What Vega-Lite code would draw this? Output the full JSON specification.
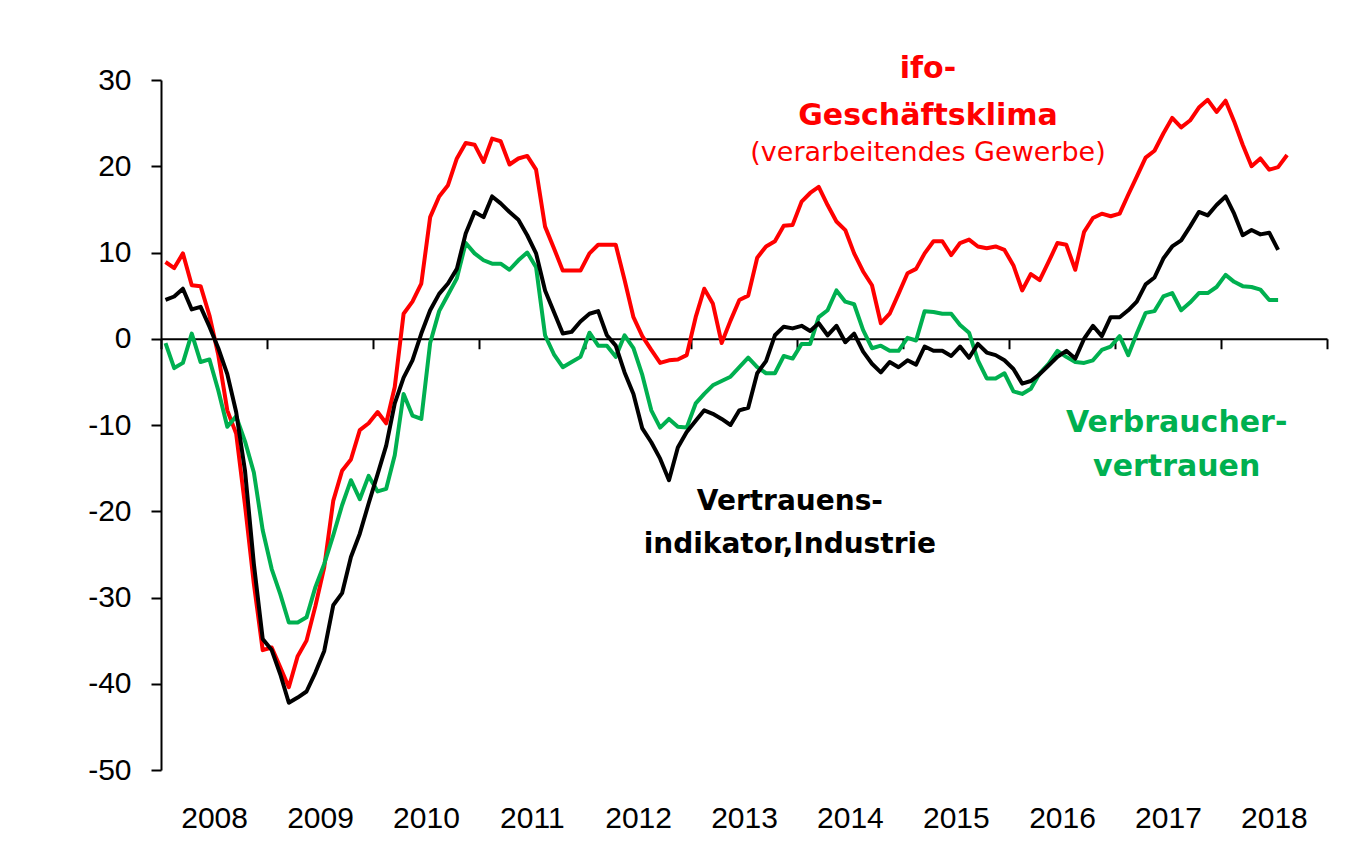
{
  "$schema": "https://vega.github.io/schema/vega-lite/v6.json",
  "autosize": "none",
  "width": 1166,
  "height": 690,
  "padding": {"left": 161, "top": 80, "right": 36, "bottom": 90},
  "background": "white",
  "config": {
    "view": {"stroke": null},
    "axisY": {"grid": false, "domainColor": "black", "domainWidth": 2, "tickColor": "black", "tickWidth": 2, "tickSize": 10, "labelFont": "Liberation Sans", "labelFontSize": 30, "labelColor": "black", "labelPadding": 20, "title": null}
  },
  "datasets": {
    "ifo": [
      {"date":"2008-01","value":8.9},{"date":"2008-02","value":8.2},{"date":"2008-03","value":9.9},{"date":"2008-04","value":6.2},{"date":"2008-05","value":6.1},{"date":"2008-06","value":2.7},{"date":"2008-07","value":-1.9},{"date":"2008-08","value":-8.3},{"date":"2008-09","value":-11.0},{"date":"2008-10","value":-19.3},{"date":"2008-11","value":-28.4},{"date":"2008-12","value":-36.1},
      {"date":"2009-01","value":-35.8},{"date":"2009-02","value":-38.1},{"date":"2009-03","value":-40.4},{"date":"2009-04","value":-36.8},{"date":"2009-05","value":-35.0},{"date":"2009-06","value":-31.0},{"date":"2009-07","value":-26.5},{"date":"2009-08","value":-18.8},{"date":"2009-09","value":-15.3},{"date":"2009-10","value":-14.0},{"date":"2009-11","value":-10.6},{"date":"2009-12","value":-9.8},
      {"date":"2010-01","value":-8.5},{"date":"2010-02","value":-9.8},{"date":"2010-03","value":-5.6},{"date":"2010-04","value":2.9},{"date":"2010-05","value":4.3},{"date":"2010-06","value":6.4},{"date":"2010-07","value":14.1},{"date":"2010-08","value":16.5},{"date":"2010-09","value":17.8},{"date":"2010-10","value":20.9},{"date":"2010-11","value":22.7},{"date":"2010-12","value":22.5},
      {"date":"2011-01","value":20.5},{"date":"2011-02","value":23.2},{"date":"2011-03","value":22.9},{"date":"2011-04","value":20.2},{"date":"2011-05","value":20.9},{"date":"2011-06","value":21.2},{"date":"2011-07","value":19.6},{"date":"2011-08","value":13.0},{"date":"2011-09","value":10.5},{"date":"2011-10","value":7.9},{"date":"2011-11","value":7.9},{"date":"2011-12","value":7.9},
      {"date":"2012-01","value":9.9},{"date":"2012-02","value":10.9},{"date":"2012-03","value":10.9},{"date":"2012-04","value":10.9},{"date":"2012-05","value":6.8},{"date":"2012-06","value":2.5},{"date":"2012-07","value":0.3},{"date":"2012-08","value":-1.3},{"date":"2012-09","value":-2.8},{"date":"2012-10","value":-2.5},{"date":"2012-11","value":-2.4},{"date":"2012-12","value":-1.9},
      {"date":"2013-01","value":2.5},{"date":"2013-02","value":5.8},{"date":"2013-03","value":4.1},{"date":"2013-04","value":-0.5},{"date":"2013-05","value":2.1},{"date":"2013-06","value":4.5},{"date":"2013-07","value":5.0},{"date":"2013-08","value":9.4},{"date":"2013-09","value":10.7},{"date":"2013-10","value":11.3},{"date":"2013-11","value":13.1},{"date":"2013-12","value":13.2},
      {"date":"2014-01","value":15.9},{"date":"2014-02","value":16.9},{"date":"2014-03","value":17.6},{"date":"2014-04","value":15.5},{"date":"2014-05","value":13.6},{"date":"2014-06","value":12.6},{"date":"2014-07","value":9.9},{"date":"2014-08","value":7.8},{"date":"2014-09","value":6.2},{"date":"2014-10","value":1.8},{"date":"2014-11","value":2.9},{"date":"2014-12","value":5.2},
      {"date":"2015-01","value":7.6},{"date":"2015-02","value":8.1},{"date":"2015-03","value":9.9},{"date":"2015-04","value":11.3},{"date":"2015-05","value":11.3},{"date":"2015-06","value":9.7},{"date":"2015-07","value":11.1},{"date":"2015-08","value":11.5},{"date":"2015-09","value":10.7},{"date":"2015-10","value":10.5},{"date":"2015-11","value":10.7},{"date":"2015-12","value":10.3},
      {"date":"2016-01","value":8.5},{"date":"2016-02","value":5.6},{"date":"2016-03","value":7.5},{"date":"2016-04","value":6.8},{"date":"2016-05","value":8.9},{"date":"2016-06","value":11.1},{"date":"2016-07","value":10.9},{"date":"2016-08","value":8.0},{"date":"2016-09","value":12.4},{"date":"2016-10","value":14.0},{"date":"2016-11","value":14.5},{"date":"2016-12","value":14.2},
      {"date":"2017-01","value":14.5},{"date":"2017-02","value":16.7},{"date":"2017-03","value":18.8},{"date":"2017-04","value":21.0},{"date":"2017-05","value":21.8},{"date":"2017-06","value":23.8},{"date":"2017-07","value":25.6},{"date":"2017-08","value":24.5},{"date":"2017-09","value":25.3},{"date":"2017-10","value":26.8},{"date":"2017-11","value":27.7},{"date":"2017-12","value":26.3},
      {"date":"2018-01","value":27.6},{"date":"2018-02","value":25.2},{"date":"2018-03","value":22.5},{"date":"2018-04","value":20.0},{"date":"2018-05","value":20.9},{"date":"2018-06","value":19.6},{"date":"2018-07","value":19.9},{"date":"2018-08","value":21.3}
    ],
    "industrie": [
      {"date":"2008-01","value":4.5},{"date":"2008-02","value":4.9},{"date":"2008-03","value":5.8},{"date":"2008-04","value":3.4},{"date":"2008-05","value":3.7},{"date":"2008-06","value":1.4},{"date":"2008-07","value":-1.1},{"date":"2008-08","value":-4.1},{"date":"2008-09","value":-8.5},{"date":"2008-10","value":-15.3},{"date":"2008-11","value":-26.1},{"date":"2008-12","value":-34.8},
      {"date":"2009-01","value":-36.1},{"date":"2009-02","value":-38.9},{"date":"2009-03","value":-42.2},{"date":"2009-04","value":-41.6},{"date":"2009-05","value":-40.9},{"date":"2009-06","value":-38.7},{"date":"2009-07","value":-36.2},{"date":"2009-08","value":-30.9},{"date":"2009-09","value":-29.5},{"date":"2009-10","value":-25.3},{"date":"2009-11","value":-22.6},{"date":"2009-12","value":-19.1},
      {"date":"2010-01","value":-15.7},{"date":"2010-02","value":-12.4},{"date":"2010-03","value":-7.5},{"date":"2010-04","value":-4.5},{"date":"2010-05","value":-2.5},{"date":"2010-06","value":0.6},{"date":"2010-07","value":3.3},{"date":"2010-08","value":5.2},{"date":"2010-09","value":6.4},{"date":"2010-10","value":8.1},{"date":"2010-11","value":12.2},{"date":"2010-12","value":14.7},
      {"date":"2011-01","value":14.1},{"date":"2011-02","value":16.5},{"date":"2011-03","value":15.7},{"date":"2011-04","value":14.7},{"date":"2011-05","value":13.8},{"date":"2011-06","value":12.0},{"date":"2011-07","value":9.9},{"date":"2011-08","value":5.6},{"date":"2011-09","value":3.1},{"date":"2011-10","value":0.6},{"date":"2011-11","value":0.8},{"date":"2011-12","value":2.0},
      {"date":"2012-01","value":2.9},{"date":"2012-02","value":3.2},{"date":"2012-03","value":0.4},{"date":"2012-04","value":-0.8},{"date":"2012-05","value":-3.9},{"date":"2012-06","value":-6.4},{"date":"2012-07","value":-10.4},{"date":"2012-08","value":-12.0},{"date":"2012-09","value":-13.9},{"date":"2012-10","value":-16.4},{"date":"2012-11","value":-12.6},{"date":"2012-12","value":-10.8},
      {"date":"2013-01","value":-9.5},{"date":"2013-02","value":-8.3},{"date":"2013-03","value":-8.7},{"date":"2013-04","value":-9.3},{"date":"2013-05","value":-10.0},{"date":"2013-06","value":-8.3},{"date":"2013-07","value":-8.0},{"date":"2013-08","value":-4.0},{"date":"2013-09","value":-2.6},{"date":"2013-10","value":0.4},{"date":"2013-11","value":1.4},{"date":"2013-12","value":1.2},
      {"date":"2014-01","value":1.5},{"date":"2014-02","value":0.9},{"date":"2014-03","value":1.8},{"date":"2014-04","value":0.4},{"date":"2014-05","value":1.5},{"date":"2014-06","value":-0.4},{"date":"2014-07","value":0.6},{"date":"2014-08","value":-1.5},{"date":"2014-09","value":-2.9},{"date":"2014-10","value":-3.9},{"date":"2014-11","value":-2.7},{"date":"2014-12","value":-3.3},
      {"date":"2015-01","value":-2.5},{"date":"2015-02","value":-3.0},{"date":"2015-03","value":-0.9},{"date":"2015-04","value":-1.4},{"date":"2015-05","value":-1.4},{"date":"2015-06","value":-2.0},{"date":"2015-07","value":-0.9},{"date":"2015-08","value":-2.2},{"date":"2015-09","value":-0.6},{"date":"2015-10","value":-1.6},{"date":"2015-11","value":-1.9},{"date":"2015-12","value":-2.5},
      {"date":"2016-01","value":-3.5},{"date":"2016-02","value":-5.2},{"date":"2016-03","value":-4.9},{"date":"2016-04","value":-4.1},{"date":"2016-05","value":-3.1},{"date":"2016-06","value":-2.1},{"date":"2016-07","value":-1.4},{"date":"2016-08","value":-2.3},{"date":"2016-09","value":0.0},{"date":"2016-10","value":1.5},{"date":"2016-11","value":0.3},{"date":"2016-12","value":2.5},
      {"date":"2017-01","value":2.5},{"date":"2017-02","value":3.3},{"date":"2017-03","value":4.3},{"date":"2017-04","value":6.3},{"date":"2017-05","value":7.1},{"date":"2017-06","value":9.3},{"date":"2017-07","value":10.7},{"date":"2017-08","value":11.4},{"date":"2017-09","value":13.0},{"date":"2017-10","value":14.7},{"date":"2017-11","value":14.3},{"date":"2017-12","value":15.5},
      {"date":"2018-01","value":16.5},{"date":"2018-02","value":14.5},{"date":"2018-03","value":12.0},{"date":"2018-04","value":12.6},{"date":"2018-05","value":12.1},{"date":"2018-06","value":12.3},{"date":"2018-07","value":10.3}
    ],
    "verbraucher": [
      {"date":"2008-01","value":-0.5},{"date":"2008-02","value":-3.4},{"date":"2008-03","value":-2.8},{"date":"2008-04","value":0.6},{"date":"2008-05","value":-2.7},{"date":"2008-06","value":-2.4},{"date":"2008-07","value":-6.0},{"date":"2008-08","value":-10.2},{"date":"2008-09","value":-9.0},{"date":"2008-10","value":-11.9},{"date":"2008-11","value":-15.5},{"date":"2008-12","value":-22.2},
      {"date":"2009-01","value":-26.7},{"date":"2009-02","value":-29.6},{"date":"2009-03","value":-32.9},{"date":"2009-04","value":-32.9},{"date":"2009-05","value":-32.3},{"date":"2009-06","value":-28.8},{"date":"2009-07","value":-26.1},{"date":"2009-08","value":-22.8},{"date":"2009-09","value":-19.3},{"date":"2009-10","value":-16.4},{"date":"2009-11","value":-18.6},{"date":"2009-12","value":-15.9},
      {"date":"2010-01","value":-17.7},{"date":"2010-02","value":-17.4},{"date":"2010-03","value":-13.5},{"date":"2010-04","value":-6.4},{"date":"2010-05","value":-8.9},{"date":"2010-06","value":-9.3},{"date":"2010-07","value":-0.5},{"date":"2010-08","value":3.2},{"date":"2010-09","value":5.1},{"date":"2010-10","value":7.0},{"date":"2010-11","value":11.1},{"date":"2010-12","value":9.9},
      {"date":"2011-01","value":9.1},{"date":"2011-02","value":8.7},{"date":"2011-03","value":8.7},{"date":"2011-04","value":8.0},{"date":"2011-05","value":9.1},{"date":"2011-06","value":10.0},{"date":"2011-07","value":8.3},{"date":"2011-08","value":0.4},{"date":"2011-09","value":-1.8},{"date":"2011-10","value":-3.3},{"date":"2011-11","value":-2.7},{"date":"2011-12","value":-2.1},
      {"date":"2012-01","value":0.7},{"date":"2012-02","value":-0.8},{"date":"2012-03","value":-0.8},{"date":"2012-04","value":-2.1},{"date":"2012-05","value":0.4},{"date":"2012-06","value":-1.1},{"date":"2012-07","value":-4.2},{"date":"2012-08","value":-8.3},{"date":"2012-09","value":-10.3},{"date":"2012-10","value":-9.3},{"date":"2012-11","value":-10.2},{"date":"2012-12","value":-10.3},
      {"date":"2013-01","value":-7.5},{"date":"2013-02","value":-6.4},{"date":"2013-03","value":-5.4},{"date":"2013-04","value":-4.9},{"date":"2013-05","value":-4.4},{"date":"2013-06","value":-3.3},{"date":"2013-07","value":-2.2},{"date":"2013-08","value":-3.3},{"date":"2013-09","value":-4.0},{"date":"2013-10","value":-4.0},{"date":"2013-11","value":-2.0},{"date":"2013-12","value":-2.3},
      {"date":"2014-01","value":-0.6},{"date":"2014-02","value":-0.6},{"date":"2014-03","value":2.5},{"date":"2014-04","value":3.3},{"date":"2014-05","value":5.6},{"date":"2014-06","value":4.3},{"date":"2014-07","value":4.0},{"date":"2014-08","value":1.0},{"date":"2014-09","value":-1.1},{"date":"2014-10","value":-0.8},{"date":"2014-11","value":-1.4},{"date":"2014-12","value":-1.4},
      {"date":"2015-01","value":0.1},{"date":"2015-02","value":-0.2},{"date":"2015-03","value":3.2},{"date":"2015-04","value":3.1},{"date":"2015-05","value":2.9},{"date":"2015-06","value":2.9},{"date":"2015-07","value":1.6},{"date":"2015-08","value":0.7},{"date":"2015-09","value":-2.5},{"date":"2015-10","value":-4.6},{"date":"2015-11","value":-4.6},{"date":"2015-12","value":-4.0},
      {"date":"2016-01","value":-6.1},{"date":"2016-02","value":-6.4},{"date":"2016-03","value":-5.8},{"date":"2016-04","value":-4.0},{"date":"2016-05","value":-2.9},{"date":"2016-06","value":-1.4},{"date":"2016-07","value":-2.1},{"date":"2016-08","value":-2.7},{"date":"2016-09","value":-2.8},{"date":"2016-10","value":-2.5},{"date":"2016-11","value":-1.3},{"date":"2016-12","value":-0.9},
      {"date":"2017-01","value":0.3},{"date":"2017-02","value":-1.9},{"date":"2017-03","value":0.6},{"date":"2017-04","value":3.0},{"date":"2017-05","value":3.2},{"date":"2017-06","value":4.9},{"date":"2017-07","value":5.3},{"date":"2017-08","value":3.3},{"date":"2017-09","value":4.2},{"date":"2017-10","value":5.3},{"date":"2017-11","value":5.3},{"date":"2017-12","value":6.0},
      {"date":"2018-01","value":7.4},{"date":"2018-02","value":6.6},{"date":"2018-03","value":6.1},{"date":"2018-04","value":6.0},{"date":"2018-05","value":5.7},{"date":"2018-06","value":4.5},{"date":"2018-07","value":4.5}
    ]
  },
  "resolve": {"axis": {"x": "independent"}},
  "layer": [
    {
      "data": {"name": "ifo"},
      "mark": {"type": "line", "color": "#FF0000", "strokeWidth": 4, "strokeJoin": "round"},
      "encoding": {
        "x": {"field": "date", "type": "temporal", "timeUnit": "utcyearmonth", "bandPosition": 0.5,
              "scale": {"domain": [{"year": 2008, "month": 1, "date": 1, "utc": true}, {"year": 2019, "month": 1, "date": 1, "utc": true}]},
              "axis": {"orient": "bottom", "offset": -431.25, "labels": false, "title": null, "grid": false, "domain": true, "domainColor": "black", "domainWidth": 2, "ticks": true, "tickColor": "black", "tickWidth": 2, "tickSize": 10,
                       "values": [{"year": 2008, "month": 1, "date": 1, "utc": true}, {"year": 2009, "month": 1, "date": 1, "utc": true}, {"year": 2010, "month": 1, "date": 1, "utc": true}, {"year": 2011, "month": 1, "date": 1, "utc": true}, {"year": 2012, "month": 1, "date": 1, "utc": true}, {"year": 2013, "month": 1, "date": 1, "utc": true}, {"year": 2014, "month": 1, "date": 1, "utc": true}, {"year": 2015, "month": 1, "date": 1, "utc": true}, {"year": 2016, "month": 1, "date": 1, "utc": true}, {"year": 2017, "month": 1, "date": 1, "utc": true}, {"year": 2018, "month": 1, "date": 1, "utc": true}, {"year": 2019, "month": 1, "date": 1, "utc": true}]}},
        "y": {"field": "value", "type": "quantitative", "scale": {"domain": [-50, 30], "nice": false, "zero": false},
              "axis": {"values": [-50, -40, -30, -20, -10, 0, 10, 20, 30], "labelExpr": "replace(datum.label, '\u2212', '-')"}}
      }
    },
    {
      "data": {"name": "verbraucher"},
      "mark": {"type": "line", "color": "#00B050", "strokeWidth": 4, "strokeJoin": "round"},
      "encoding": {
        "x": {"field": "date", "type": "temporal", "timeUnit": "utcyearmonth", "bandPosition": 0.5, "axis": null},
        "y": {"field": "value", "type": "quantitative"}
      }
    },
    {
      "data": {"name": "industrie"},
      "mark": {"type": "line", "color": "#000000", "strokeWidth": 4, "strokeJoin": "round"},
      "encoding": {
        "x": {"field": "date", "type": "temporal", "timeUnit": "utcyearmonth", "bandPosition": 0.5, "axis": null},
        "y": {"field": "value", "type": "quantitative"}
      }
    },
    {
      "data": {"values": [{}]},
      "mark": {"type": "text", "text": ["ifo-", "Geschäftsklima"], "color": "#FF0000", "font": "DejaVu Sans", "fontWeight": "bold", "fontSize": 30, "lineHeight": 47, "align": "center", "baseline": "alphabetic"},
      "encoding": {
        "x": {"datum": {"year": 2015, "month": 3, "date": 28, "utc": true}, "type": "temporal",
              "axis": {"orient": "bottom", "title": null, "grid": false, "domain": false, "ticks": false, "tickSize": 0, "labelPadding": 33, "labelFont": "Liberation Sans", "labelFontSize": 30, "labelColor": "black", "format": "%Y", "labelAlign": "center",
                       "values": [{"year": 2008, "month": 7, "date": 2, "utc": true}, {"year": 2009, "month": 7, "date": 2, "utc": true}, {"year": 2010, "month": 7, "date": 2, "utc": true}, {"year": 2011, "month": 7, "date": 2, "utc": true}, {"year": 2012, "month": 7, "date": 2, "utc": true}, {"year": 2013, "month": 7, "date": 2, "utc": true}, {"year": 2014, "month": 7, "date": 2, "utc": true}, {"year": 2015, "month": 7, "date": 2, "utc": true}, {"year": 2016, "month": 7, "date": 2, "utc": true}, {"year": 2017, "month": 7, "date": 2, "utc": true}, {"year": 2018, "month": 7, "date": 2, "utc": true}]}},
        "y": {"datum": 30.26}
      }
    },
    {
      "data": {"values": [{}]},
      "mark": {"type": "text", "text": "(verarbeitendes Gewerbe)", "color": "#FF0000", "font": "DejaVu Sans", "fontSize": 27, "align": "center", "baseline": "alphabetic"},
      "encoding": {
        "x": {"datum": {"year": 2015, "month": 3, "date": 28, "utc": true}, "type": "temporal", "axis": null},
        "y": {"datum": 20.6}
      }
    },
    {
      "data": {"values": [{}]},
      "mark": {"type": "text", "text": ["Vertrauens-", "indikator,Industrie"], "color": "#000000", "font": "DejaVu Sans", "fontWeight": "bold", "fontSize": 28, "lineHeight": 43, "align": "center", "baseline": "alphabetic"},
      "encoding": {
        "x": {"datum": {"year": 2013, "month": 12, "date": 7, "utc": true}, "type": "temporal", "axis": null},
        "y": {"datum": -19.9}
      }
    },
    {
      "data": {"values": [{}]},
      "mark": {"type": "text", "text": ["Verbraucher-", "vertrauen"], "color": "#00B050", "font": "DejaVu Sans", "fontWeight": "bold", "fontSize": 30, "lineHeight": 44, "align": "center", "baseline": "alphabetic"},
      "encoding": {
        "x": {"datum": {"year": 2017, "month": 8, "date": 1, "utc": true}, "type": "temporal", "axis": null},
        "y": {"datum": -10.86}
      }
    }
  ]
}
